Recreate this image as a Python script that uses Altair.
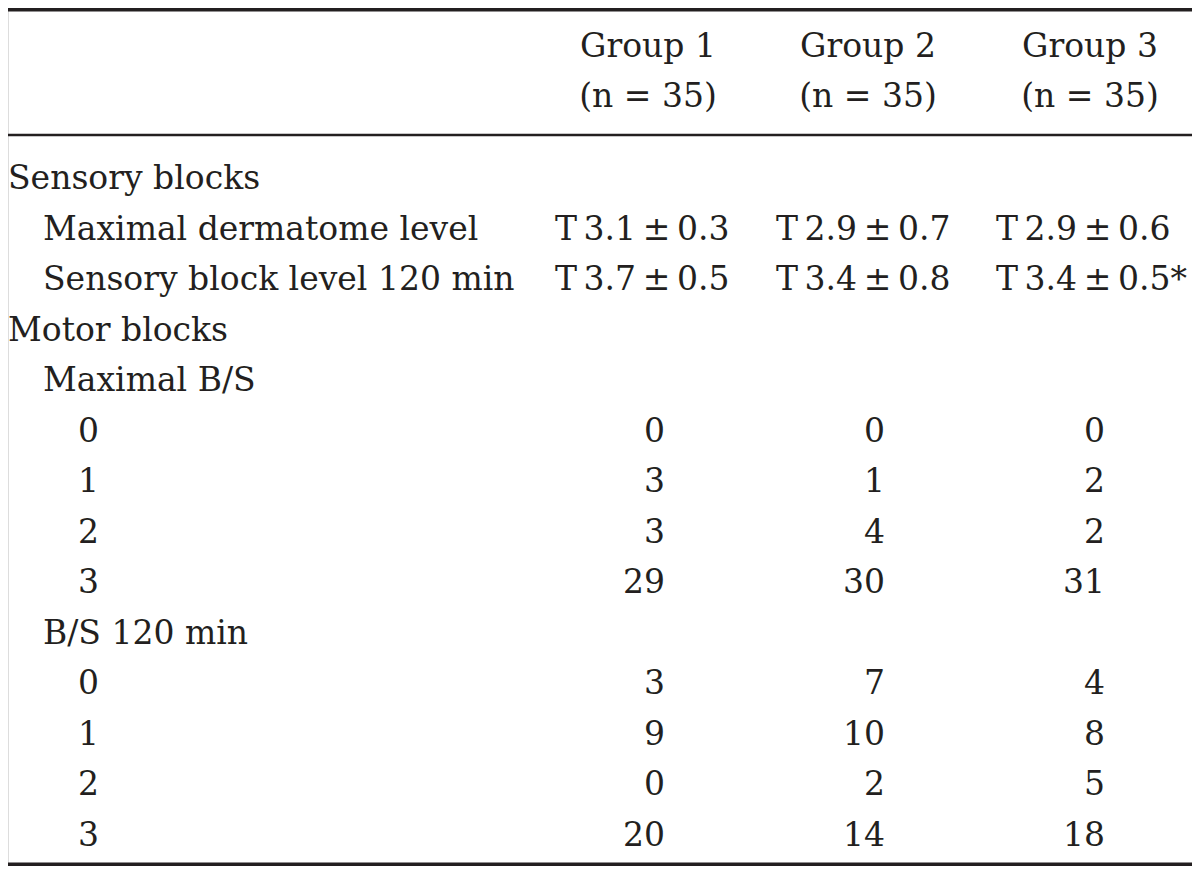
import altair as alt
import pandas as pd

groups = ["Group 1", "Group 2", "Group 3"]
group_n = ["(n = 35)", "(n = 35)", "(n = 35)"]
max_dermatome = ["T 3.1 ± 0.3", "T 2.9 ± 0.7", "T 2.9 ± 0.6"]
sensory_120 = ["T 3.7 ± 0.5", "T 3.4 ± 0.8", "T 3.4 ± 0.5*"]
bs_levels = ["0", "1", "2", "3"]
max_bs = [[0, 0, 0], [3, 1, 2], [3, 4, 2], [29, 30, 31]]
bs_120 = [[3, 7, 4], [9, 10, 8], [0, 2, 5], [20, 14, 18]]

# layout (reference pixel space, text baselines)
FONT = "DejaVu Serif"
FS = 33
COLOR = "#231f20"
indent_x = [8, 43, 78]
col_center = [648, 868, 1090]
col_left = [555, 776, 996]
col_right = [665, 885, 1105]
header_y = [57, 107]
body_top = 189
row_step = 50.5

rows = []  # (label, indent, values, kind)
rows.append(("Sensory blocks", 0, None, None))
rows.append(("Maximal dermatome level", 1, max_dermatome, "str"))
rows.append(("Sensory block level 120 min", 1, sensory_120, "str"))
rows.append(("Motor blocks", 0, None, None))
rows.append(("Maximal B/S", 1, None, None))
for lvl, vals in zip(bs_levels, max_bs):
    rows.append((lvl, 2, vals, "int"))
rows.append(("B/S 120 min", 1, None, None))
for lvl, vals in zip(bs_levels, bs_120):
    rows.append((lvl, 2, vals, "int"))

recs = []
for j, g in enumerate(groups):
    recs.append(dict(x=col_center[j], y=header_y[0], t=g, a="center"))
    recs.append(dict(x=col_center[j], y=header_y[1], t=group_n[j], a="center"))
for i, (label, ind, vals, kind) in enumerate(rows):
    y = body_top + i * row_step
    recs.append(dict(x=indent_x[ind], y=y, t=label, a="left"))
    if vals is not None:
        for j, v in enumerate(vals):
            if kind == "str":
                # thin spaces to match the tighter typesetting of the original
                recs.append(dict(x=col_left[j], y=y, t=str(v).replace(" ", "\u2009"), a="left"))
            else:
                recs.append(dict(x=col_right[j], y=y, t=str(v), a="right"))

df = pd.DataFrame(recs)
W, H = 1184, 858
xs = alt.Scale(domain=[8, 8 + W], range=[0, W])
ys = alt.Scale(domain=[8, 8 + H], range=[0, H])

base = alt.Chart(df)
def txt(align):
    return base.transform_filter(alt.datum.a == align).mark_text(
        font=FONT, fontSize=FS, color=COLOR, align=align, baseline="alphabetic"
    ).encode(
        x=alt.X("x:Q", scale=xs, axis=None),
        y=alt.Y("y:Q", scale=ys, axis=None),
        text="t:N",
    )

lines = pd.DataFrame({"y": [9.7, 135, 864.3], "w": [3.5, 2.5, 3.5]})
rules = alt.Chart(lines).mark_rule(color=COLOR).encode(
    y=alt.Y("y:Q", scale=ys, axis=None),
    x=alt.value(0), x2=alt.value(W),
    strokeWidth=alt.StrokeWidth("w:Q", scale=None, legend=None),
)

chart = alt.layer(rules, txt("left"), txt("center"), txt("right")).properties(
    width=W, height=H, padding=0, autosize="none"
).configure_view(stroke=None).configure(background="white")

chart.save("out.html", embed_options={"renderer": "svg", "actions": False})
